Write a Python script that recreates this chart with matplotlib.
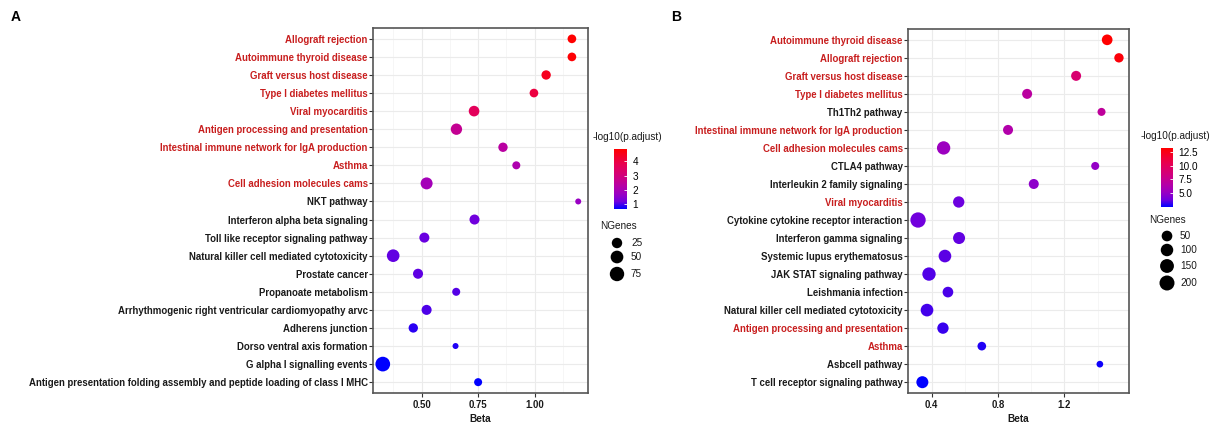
import numpy as np
import matplotlib
matplotlib.use("Agg")
import matplotlib.pyplot as plt
from matplotlib.colors import LinearSegmentedColormap, Normalize
from matplotlib.ticker import MultipleLocator

plt.rcParams['font.family'] = ['Liberation Sans', 'DejaVu Sans']

# ---- panel A data (top to bottom) ----
terms_a = ["Allograft rejection", "Autoimmune thyroid disease", "Graft versus host disease",
           "Type I diabetes mellitus", "Viral myocarditis", "Antigen processing and presentation",
           "Intestinal immune network for IgA production", "Asthma", "Cell adhesion molecules cams",
           "NKT pathway", "Interferon alpha beta signaling", "Toll like receptor signaling pathway",
           "Natural killer cell mediated cytotoxicity", "Prostate cancer", "Propanoate metabolism",
           "Arrhythmogenic right ventricular cardiomyopathy arvc", "Adherens junction",
           "Dorso ventral axis formation", "G alpha I signalling events",
           "Antigen presentation folding assembly and peptide loading of class I MHC"]
beta_a = [1.165, 1.165, 1.051, 0.997, 0.732, 0.654, 0.860, 0.919, 0.522, 1.193,
          0.734, 0.512, 0.374, 0.484, 0.653, 0.522, 0.463, 0.650, 0.328, 0.750]
logp_a = [4.86, 4.80, 4.45, 4.0, 3.6, 2.6, 2.35, 2.1, 1.9, 1.7,
          1.2, 1.15, 1.12, 1.1, 1.05, 1.02, 0.85, 0.8, 0.66, 0.65]
ngenes_a = [13, 13, 17, 13, 27, 34, 17, 10, 41, 6,
            22, 22, 49, 22, 10, 22, 17, 6, 80, 10]
red_a = [True] * 9 + [False] * 11
breaks_a = [25, 50, 75]

# ---- panel B data (top to bottom) ----
terms_b = ["Autoimmune thyroid disease", "Allograft rejection", "Graft versus host disease",
           "Type I diabetes mellitus", "Th1Th2 pathway", "Intestinal immune network for IgA production",
           "Cell adhesion molecules cams", "CTLA4 pathway", "Interleukin 2 family signaling",
           "Viral myocarditis", "Cytokine cytokine receptor interaction", "Interferon gamma signaling",
           "Systemic lupus erythematosus", "JAK STAT signaling pathway", "Leishmania infection",
           "Natural killer cell mediated cytotoxicity", "Antigen processing and presentation",
           "Asthma", "Asbcell pathway", "T cell receptor signaling pathway"]
beta_b = [1.457, 1.528, 1.270, 0.975, 1.423, 0.860, 0.472, 1.385, 1.015, 0.563,
          0.318, 0.565, 0.480, 0.384, 0.498, 0.372, 0.468, 0.702, 1.413, 0.344]
logp_b = [13.2, 12.9, 9.0, 6.9, 7.1, 6.4, 5.3, 5.0, 4.8, 3.8,
          3.9, 3.7, 3.6, 3.5, 3.4, 3.3, 3.2, 2.9, 2.7, 2.5]
ngenes_b = [50, 25, 36, 36, 10, 36, 130, 10, 36, 66,
            215, 85, 106, 130, 50, 106, 66, 16, 5, 85]
red_b = [True, True, True, True, False, True, True, False, False, True,
         False, False, False, False, False, False, True, True, False, False]
breaks_b = [50, 100, 150, 200]

W, H = 1212, 422
DPI = 100
RED = "#C81E1E"
BLACK = "#1A1A1A"
FS = 6.9
LFS = 7.2

# ggplot blue -> red gradient (Lab interpolation, approximated)
cmap = LinearSegmentedColormap.from_list(
    "bluered", [(0, "#0000FF"), (0.125, "#7000DE"), (0.25, "#9A00C2"), (0.375, "#B400A8"),
                (0.5, "#CA0088"), (0.625, "#DA006C"), (0.75, "#E8004F"), (1, "#FF0000")])


def size_pts(n, nmin, nmax, dmin, dmax):
    # area scale like ggplot: diameter grows with sqrt of rescaled count
    n = np.asarray(n, dtype=float)
    d = dmin + (dmax - dmin) * np.sqrt((n - nmin) / (nmax - nmin))
    return (d * 72 / DPI) ** 2


def px_box(x0, y0, x1, y1):
    return [x0 / W, 1 - y1 / H, (x1 - x0) / W, (y1 - y0) / H]


fig = plt.figure(figsize=(W / DPI, H / DPI), dpi=DPI)
overlay = fig.add_axes([0, 0, 1, 1], zorder=5)
overlay.set_xlim(0, W)
overlay.set_ylim(H, 0)
overlay.axis("off")


def panel(box, terms, beta, logp, ngenes, reds, major, srange, dsize):
    ax = fig.add_axes(px_box(*box))
    n = len(terms)
    y = np.arange(n)[::-1]
    s = size_pts(ngenes, srange[0], srange[1], dsize[0], dsize[1])
    sc = ax.scatter(beta, y, s=s, c=logp, cmap=cmap,
                    norm=Normalize(min(logp), max(logp)), linewidths=0, zorder=3)
    lo, hi = min(beta), max(beta)
    pad = (hi - lo) * 0.05
    ax.set_xlim(lo - pad, hi + pad)
    ax.set_ylim(-0.6, n - 0.4)
    ax.set_yticks(y)
    ax.set_yticklabels(terms)
    for lab, r in zip(ax.get_yticklabels(), reds):
        lab.set_color(RED if r else BLACK)
        lab.set_fontweight("bold")
        lab.set_fontsize(FS)
    ax.xaxis.set_major_locator(MultipleLocator(major))
    ax.xaxis.set_minor_locator(MultipleLocator(major / 2))
    ax.tick_params(axis="x", labelsize=FS, labelcolor=BLACK, length=3, color="#333333", pad=2)
    ax.tick_params(axis="x", which="minor", length=0)
    ax.tick_params(axis="y", length=3, color="#333333", pad=0.8)
    ax.grid(True, which="major", color="#EBEBEB", lw=0.8, zorder=0)
    ax.grid(True, which="minor", axis="x", color="#F3F3F3", lw=0.5, zorder=0)
    ax.set_axisbelow(True)
    for sp in ax.spines.values():
        sp.set_color("#555555")
        sp.set_linewidth(1.2)
    ax.set_xlabel("Beta", fontsize=7.2, fontweight="bold", color=BLACK, labelpad=3)
    return ax, sc


axA, scA = panel((373, 28, 588, 393), terms_a, beta_a, logp_a, ngenes_a, red_a,
                 0.25, (6, 80), (6.0, 14.7))
axB, scB = panel((908, 29, 1129, 393), terms_b, beta_b, logp_b, ngenes_b, red_b,
                 0.4, (5, 215), (6.7, 15.3))
axA.xaxis.set_major_formatter(lambda v, p: f"{v:.2f}")
axB.xaxis.set_major_formatter(lambda v, p: f"{v:.1f}")
for ax in (axA, axB):
    for lab in ax.get_xticklabels():
        lab.set_fontweight("bold")


def legends(sc, cbox, ticks, title_xy, ng_xy, breaks, srange, dsize, dot_x, dot_ys, lab_x):
    cax = fig.add_axes(px_box(*cbox))
    cb = fig.colorbar(sc, cax=cax, ticks=ticks)
    cb.outline.set_visible(False)
    cax.tick_params(length=2.5, color="white", width=0.6, labelsize=LFS, pad=4, direction="in")
    overlay.text(title_xy[0], title_xy[1], "-log10(p.adjust)", fontsize=LFS, color=BLACK,
                 ha="left", va="center")
    overlay.text(ng_xy[0], ng_xy[1], "NGenes", fontsize=LFS, color=BLACK,
                 ha="center", va="center")
    s = size_pts(breaks, srange[0], srange[1], dsize[0], dsize[1])
    overlay.scatter([dot_x] * len(breaks), dot_ys, s=s, c="black", linewidths=0)
    for b, yy in zip(breaks, dot_ys):
        overlay.text(lab_x, yy, str(b), fontsize=LFS, color=BLACK, ha="left", va="center")


legends(scA, (614, 149, 627, 209), [1, 2, 3, 4], (593, 137), (618, 226), breaks_a,
        (6, 80), (6.0, 14.7), 617, [243, 257, 274], 631)
legends(scB, (1161, 148, 1173, 207), [5.0, 7.5, 10.0, 12.5], (1141, 136), (1167, 220), breaks_b,
        (5, 215), (6.7, 15.3), 1167, [236, 250, 266, 283], 1180)

overlay.text(11, 17, "A", fontsize=10, fontweight="bold", va="center", ha="left")
overlay.text(671, 17, "B", fontsize=10, fontweight="bold", va="center", ha="left")

fig.savefig("out.png", dpi=DPI)
